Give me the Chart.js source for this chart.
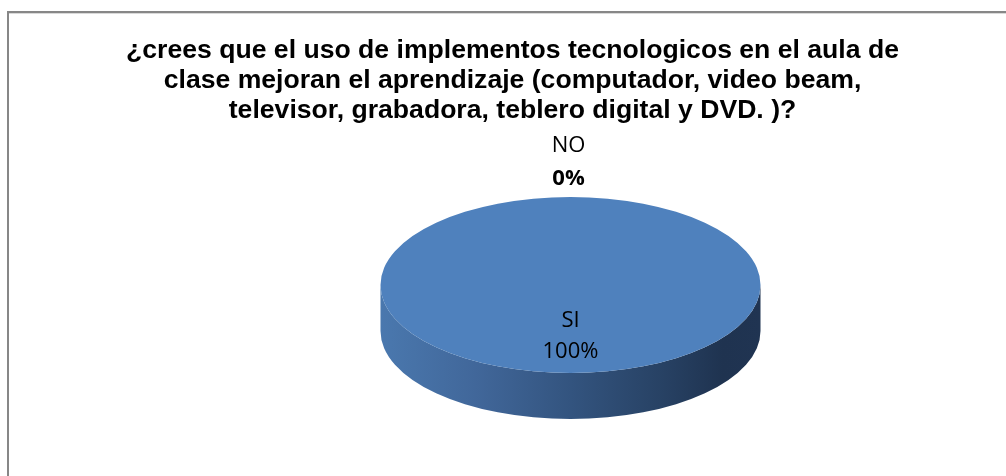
<!DOCTYPE html>
<html>
<head>
<meta charset="utf-8">
<script src="https://cdn.jsdelivr.net/npm/chart.js@4/dist/chart.umd.min.js"></script>
<style>
  html, body { margin: 0; padding: 0; background: #ffffff; }
  #wrap { width: 1006px; height: 476px; position: relative; }
</style>
</head>
<body>
<div id="wrap"><canvas id="pieChart"></canvas></div>
<script>
const TITLE_LINES = [
  "¿crees que el uso de implementos tecnologicos en el aula de",
  "clase mejoran el aprendizaje (computador, video beam,",
  "televisor, grabadora, teblero digital y DVD. )?"
];
const LABELS = ["SI", "NO"];
const VALUES = [100, 0];
const SLICE_COLORS = ["#4f81bd", "#c0504d"];

// 3D look of the pie (Excel style)
const RX = 190, RY = 88, DEPTH = 46;
const PIE_SHIFT = 116;
const LABEL_FONT = '"Open Sans", "Noto Sans", sans-serif';

const frame = {
  id: 'frame',
  beforeDraw(chart) {
    const ctx = chart.ctx;
    ctx.save();
    ctx.fillStyle = "#ffffff";
    ctx.fillRect(0, 0, chart.width, chart.height);
    ctx.fillStyle = "#878787";
    ctx.fillRect(7, 11, chart.width - 7, 2);
    ctx.fillRect(7, 11, 2, chart.height - 11);
    ctx.fillStyle = "#d9d9d9";
    ctx.fillRect(9, 13, chart.width - 9, 1);
    ctx.restore();
  }
};

// empty box on the left so the pie sits right of the title centre
const spacer = {
  id: 'spacer',
  beforeInit(chart) {
    Chart.layouts.addBox(chart, {
      position: 'left', weight: 0, fullSize: false, options: {},
      isHorizontal() { return false; },
      update(maxWidth, maxHeight) { this.width = PIE_SHIFT; this.height = maxHeight; },
      draw() {}
    });
  }
};

function sideGradient(ctx, x) {
  const g = ctx.createLinearGradient(x - RX, 0, x + RX, 0);
  g.addColorStop(0, "#4a78ae");
  g.addColorStop(0.25, "#41679a");
  g.addColorStop(0.5, "#33547f");
  g.addColorStop(0.75, "#274163");
  g.addColorStop(0.9, "#1f3350");
  g.addColorStop(1, "#203452");
  return g;
}

const pie3d = {
  id: 'pie3d',
  beforeDatasetsDraw(chart) {
    const arc = chart.getDatasetMeta(0).data[0];
    const { x, y, outerRadius } = arc;
    const ctx = chart.ctx;
    ctx.save();
    // side wall
    ctx.beginPath();
    ctx.ellipse(x, y, RX, RY, 0, 0, Math.PI, false);
    ctx.lineTo(x - RX, y + DEPTH);
    ctx.ellipse(x, y + DEPTH, RX, RY, 0, Math.PI, 0, true);
    ctx.closePath();
    ctx.fillStyle = sideGradient(ctx, x);
    ctx.fill();
    // flatten the top face
    ctx.translate(x, y);
    ctx.scale(RX / outerRadius, RY / outerRadius);
    ctx.translate(-x, -y);
  },
  afterDatasetsDraw(chart) {
    const ctx = chart.ctx;
    ctx.restore();
    const meta = chart.getDatasetMeta(0);
    const total = VALUES.reduce((a, b) => a + b, 0);
    ctx.save();
    ctx.fillStyle = "#000000";
    ctx.textAlign = "center";
    ctx.textBaseline = "middle";
    meta.data.forEach((arc, i) => {
      const pct = Math.round(VALUES[i] / total * 100) + "%";
      const { x, y, outerRadius } = arc;
      if (VALUES[i] > 0) {
        const p = arc.tooltipPosition();
        const px = x + (p.x - x) * RX / outerRadius;
        const py = y + (p.y - y) * RY / outerRadius;
        ctx.font = "22px " + LABEL_FONT;
        ctx.fillText(LABELS[i], px, py - 8);
        ctx.fillText(pct, px, py + 23);
      } else {
        const a = (arc.startAngle + arc.endAngle) / 2;
        const ex = x + Math.cos(a) * RX;
        const ey = y + Math.sin(a) * RY;
        ctx.font = "22px " + LABEL_FONT;
        ctx.fillText(LABELS[i], ex - 2, ey - 51);
        ctx.font = "bold 22px " + LABEL_FONT;
        ctx.fillText(pct, ex - 2, ey - 18);
      }
    });
    ctx.restore();
  }
};

const ctx = document.getElementById('pieChart').getContext('2d');
new Chart(ctx, {
  type: 'pie',
  data: {
    labels: LABELS,
    datasets: [{
      data: VALUES,
      backgroundColor: SLICE_COLORS,
      borderWidth: 0,
      clip: false
    }]
  },
  options: {
    responsive: true,
    maintainAspectRatio: false,
    animation: false,
    layout: { padding: { top: 25, left: 20, right: 1, bottom: 32 } },
    plugins: {
      legend: { display: false },
      tooltip: { enabled: false },
      title: {
        display: true,
        text: TITLE_LINES,
        color: "#000000",
        font: { family: '"Liberation Sans", Arial, sans-serif', size: 26.6, weight: 'bold', lineHeight: 1.14 },
        padding: { top: 10, bottom: 0 }
      }
    }
  },
  plugins: [frame, spacer, pie3d]
});
</script>
</body>
</html>
